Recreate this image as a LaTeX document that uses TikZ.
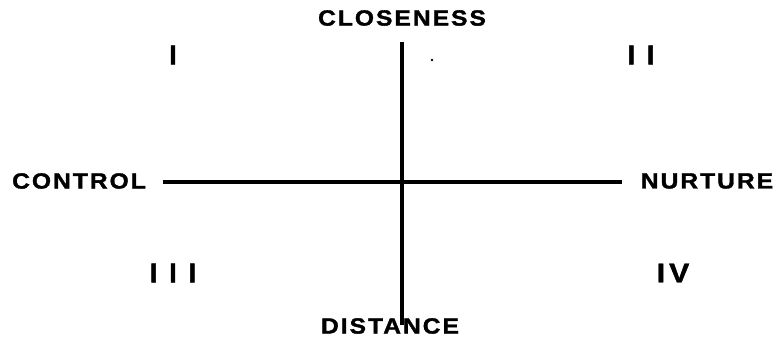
\documentclass[tikz,border=0pt]{standalone}
\usepackage{fontspec}
\setmainfont{Liberation Sans}
\begin{document}
\begin{tikzpicture}[x=1pt,y=-1pt,
  lbl/.style={inner sep=0pt, font=\fontsize{22}{26}\selectfont\bfseries\addfontfeature{FakeStretch=1.12,FakeBold=1.5,LetterSpace=9}},
  num/.style={inner sep=0pt, font=\fontsize{27}{31}\selectfont\bfseries\addfontfeature{FakeBold=1.8,LetterSpace=44}},
  axis/.style={line width=3.2pt}]
\useasboundingbox (0,0) rectangle (775,347);
\node[lbl] (close) at (402,18) {CLOSENESS};
\node[lbl] (dist) at (390,326) {DISTANCE};
\node[lbl] (ctrl) at (79,181) {CONTROL};
\node[lbl] (nurt) at (707,181) {NURTURE};
\node[num] (q1) at (173,55) {I};
\node[num] (q2) at (641,55) {II};
\node[num] (q3) at (173,273) {III};
\node[num, font=\fontsize{27}{31}\selectfont\bfseries\addfontfeature{FakeStretch=1.12,FakeBold=1.5,LetterSpace=15}] (q4) at (673,273) {IV};
\coordinate (vt) at (402,42);
\coordinate (vb) at (402,325);
\coordinate (hl) at (163,182);
\coordinate (hr) at (622,182);
\draw[axis] (vt) -- (vb);
\draw[axis] (hl) -- (hr);
\fill (432,60) circle (1.3pt);
\end{tikzpicture}
\end{document}
